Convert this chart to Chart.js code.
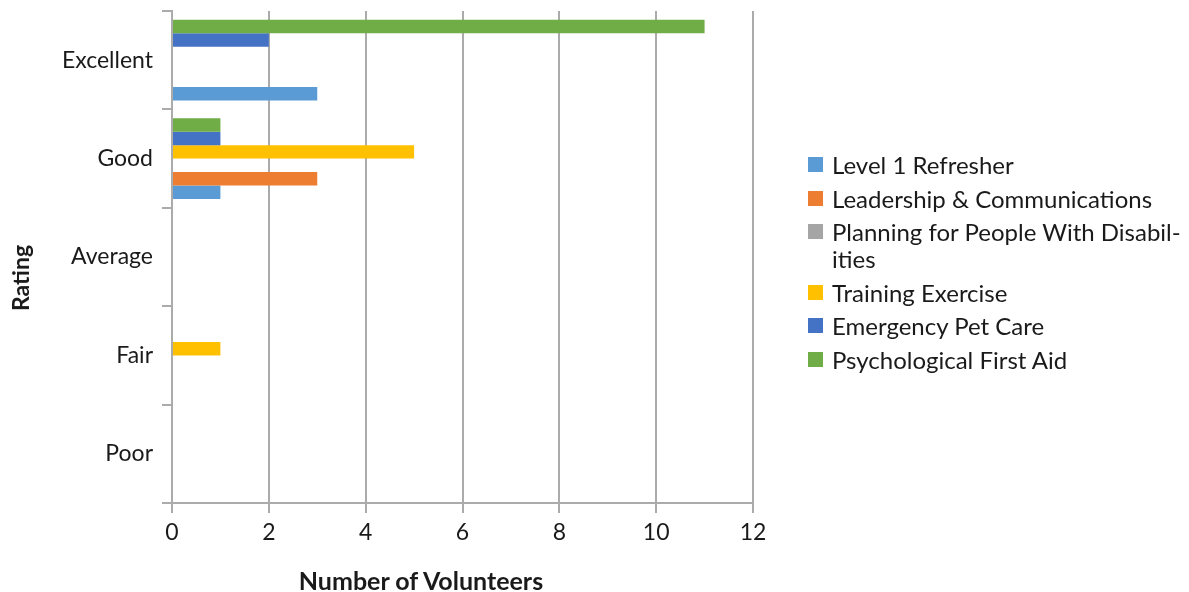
<!DOCTYPE html>
<html>
<head>
<meta charset="utf-8">
<script src="https://cdn.jsdelivr.net/npm/chart.js@4.4.1/dist/chart.umd.min.js"></script>
<style>
  html, body { margin: 0; padding: 0; background: #fff; }
  #wrap { position: relative; width: 1189px; height: 592px; font-family: Lato, "Open Sans", sans-serif; color: #1a1a1a; }
  #chart { position: absolute; left: 0; top: 0; }
  .ytitle { position: absolute; left: 20px; top: 278px; transform: translate(-50%, -50%) rotate(-90deg); font-weight: bold; font-size: 23px; white-space: nowrap; }
  .xtitle { position: absolute; left: 421px; top: 580px; transform: translate(-50%, -50%); font-weight: bold; font-size: 25px; white-space: nowrap; }
  #legend { position: absolute; left: 808px; top: 151px; font-size: 24px; }
  #legend .item { display: flex; align-items: flex-start; margin-bottom: 6.5px; line-height: 27px; }
  #legend .box { width: 15px; height: 15px; margin-top: 6px; margin-right: 9px; flex: none; }
</style>
</head>
<body>
<div id="wrap">
  <canvas id="chart" width="1189" height="592"></canvas>
  <div class="ytitle">Rating</div>
  <div class="xtitle">Number of Volunteers</div>
  <div id="legend"></div>
</div>
<script>
const categories = ["Excellent", "Good", "Average", "Fair", "Poor"];
const xTicks = [0, 2, 4, 6, 8, 10, 12];

const seriesNames = [
  "Level 1 Refresher",
  "Leadership & Communications",
  "Planning for People With Disabil-ities",
  "Training Exercise",
  "Emergency Pet Care",
  "Psychological First Aid"
];
const seriesColors = ["#5b9bd5", "#ed7d31", "#a5a5a5", "#ffc000", "#4472c4", "#70ad47"];

const level1 = [3, 1, 0, 0, 0];
const leadership = [0, 3, 0, 0, 0];
const planning = [0, 0, 0, 0, 0];
const training = [0, 5, 0, 1, 0];
const petCare = [2, 1, 0, 0, 0];
const firstAid = [11, 1, 0, 0, 0];

const seriesValues = [level1, leadership, planning, training, petCare, firstAid];

// legend (original order)
const legendEl = document.getElementById("legend");
seriesNames.forEach((name, i) => {
  const item = document.createElement("div");
  item.className = "item";
  const box = document.createElement("span");
  box.className = "box";
  box.style.background = seriesColors[i];
  const txt = document.createElement("span");
  txt.innerHTML = name.replace("&", "&amp;").replace("Disabil-ities", "Disabil-<br>ities");
  item.appendChild(box);
  item.appendChild(txt);
  legendEl.appendChild(item);
});

// chart.js puts the first dataset at the top of each group, excel puts it at the bottom
const datasets = seriesNames.map((name, i) => ({
  label: name,
  data: seriesValues[i],
  backgroundColor: seriesColors[i],
  borderWidth: 0
})).reverse();

const gridColor = "#ababab";

new Chart(document.getElementById("chart"), {
  type: "bar",
  data: { labels: categories, datasets: datasets },
  options: {
    indexAxis: "y",
    responsive: false,
    animation: false,
    categoryPercentage: 0.82,
    barPercentage: 1,
    layout: { padding: { left: 0, right: 436, top: 11, bottom: 0 } },
    plugins: {
      legend: { display: false },
      tooltip: { enabled: false }
    },
    scales: {
      x: {
        min: 0,
        max: 12,
        afterBuildTicks: (scale) => { scale.ticks = xTicks.map(v => ({ value: v })); },
        afterFit: (scale) => { scale.height = 89; },
        grid: { color: gridColor, lineWidth: 2, tickLength: 10 },
        border: { color: gridColor, width: 2 },
        ticks: { padding: 6, color: "#1a1a1a", font: { family: "Lato", size: 23 } }
      },
      y: {
        afterFit: (scale) => {
          scale.width = 172;
          // labels sit in the middle of each band, no need for overhang room
          scale.paddingTop = 0;
          scale.paddingBottom = 0;
        },
        grid: { color: gridColor, lineWidth: 2, tickLength: 10, drawOnChartArea: false, offset: true },
        border: { color: gridColor, width: 2 },
        ticks: { padding: 9, color: "#1a1a1a", font: { family: "Lato", size: 23 } }
      }
    }
  }
});
</script>
</body>
</html>
